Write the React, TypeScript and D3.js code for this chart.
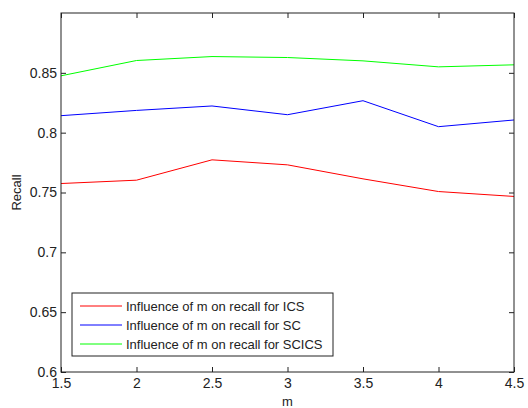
import { useEffect, useRef } from "react";
import * as d3 from "d3";

const mValues = [1.5, 2, 2.5, 3, 3.5, 4, 4.5];
const icsRecall = [0.7575, 0.7603, 0.7773, 0.7731, 0.7614, 0.7508, 0.7467];
const scRecall = [0.8142, 0.8186, 0.8223, 0.815, 0.8267, 0.805, 0.8106];
const scicsRecall = [0.8475, 0.8603, 0.8636, 0.8628, 0.86, 0.855, 0.8567];
const xTicks = [1.5, 2, 2.5, 3, 3.5, 4, 4.5];
const yTicks = [0.6, 0.65, 0.7, 0.75, 0.8, 0.85];

const series = [
  { name: "Influence of m on recall for ICS", values: icsRecall, color: "#ff0000" },
  { name: "Influence of m on recall for SC", values: scRecall, color: "#0000ff" },
  { name: "Influence of m on recall for SCICS", values: scicsRecall, color: "#00ff00" },
];

export default function App() {
  const svgRef = useRef<SVGSVGElement | null>(null);

  useEffect(() => {
    if (!svgRef.current) return;
    const W = 528, H = 408;
    const margin = { top: 13, right: 14, bottom: 36, left: 61 };
    const width = W - margin.left - margin.right;
    const height = H - margin.top - margin.bottom;
    const font = "Liberation Sans, Arial, sans-serif";

    const root = d3.select(svgRef.current);
    root.selectAll("*").remove();
    root.attr("width", W).attr("height", H).style("font-family", font);

    root.append("rect").attr("width", W).attr("height", H).attr("fill", "#fff");

    const g = root.append("g").attr("transform", `translate(${margin.left},${margin.top})`);

    const x = d3.scaleLinear().domain([1.5, 4.5]).range([0, width]);
    const y = d3.scaleLinear().domain([0.6, 0.9]).range([height, 0]);

    // lines
    const line = d3.line<number>()
      .x((_, i) => x(mValues[i]))
      .y(d => y(d));

    series.forEach(s => {
      g.append("path")
        .datum(s.values)
        .attr("d", line)
        .attr("fill", "none")
        .attr("stroke", s.color)
        .attr("stroke-width", 1);
    });

    // axes, ticks pointing inward on all four sides
    const tickLen = 5;
    g.append("g")
      .attr("transform", `translate(0,${height})`)
      .call(d3.axisBottom(x).tickValues(xTicks).tickSize(-tickLen).tickPadding(6).tickFormat(d3.format("")))
      .call(a => a.select(".domain").remove());
    g.append("g")
      .call(d3.axisTop(x).tickValues(xTicks).tickSize(-tickLen).tickFormat(() => ""))
      .call(a => a.select(".domain").remove());
    g.append("g")
      .call(d3.axisLeft(y).tickValues(yTicks).tickSize(-tickLen).tickPadding(4).tickFormat(d3.format("")))
      .call(a => a.select(".domain").remove());
    g.append("g")
      .attr("transform", `translate(${width},0)`)
      .call(d3.axisRight(y).tickValues(yTicks).tickSize(-tickLen).tickFormat(() => ""))
      .call(a => a.select(".domain").remove());

    g.selectAll(".tick text").attr("font-size", 14).attr("fill", "#222").attr("font-family", font);
    g.selectAll(".tick line").attr("stroke", "#222");

    g.append("rect")
      .attr("width", width).attr("height", height)
      .attr("fill", "none").attr("stroke", "#222").attr("stroke-width", 1);

    // axis labels
    root.append("text")
      .attr("x", margin.left + width / 2).attr("y", 406)
      .attr("text-anchor", "middle").attr("font-size", 13).attr("fill", "#222")
      .text("m");
    root.append("text")
      .attr("transform", `translate(21,${margin.top + height / 2}) rotate(-90)`)
      .attr("text-anchor", "middle").attr("font-size", 13).attr("fill", "#222")
      .text("Recall");

    // legend
    const lg = root.append("g").attr("transform", "translate(72,293)");
    lg.append("rect").attr("width", 261).attr("height", 63)
      .attr("fill", "#fff").attr("stroke", "#222").attr("stroke-width", 1);
    series.forEach((s, i) => {
      const cy = 13 + i * 19;
      lg.append("line").attr("x1", 8).attr("x2", 50).attr("y1", cy).attr("y2", cy)
        .attr("stroke", s.color).attr("stroke-width", 1);
      lg.append("text").attr("x", 54).attr("y", cy).attr("dy", "0.35em")
        .attr("font-size", 13).attr("fill", "#222").text(s.name);
    });
  }, []);

  return <svg ref={svgRef} style={{ position: "absolute", left: 0, top: 0 }} />;
}
